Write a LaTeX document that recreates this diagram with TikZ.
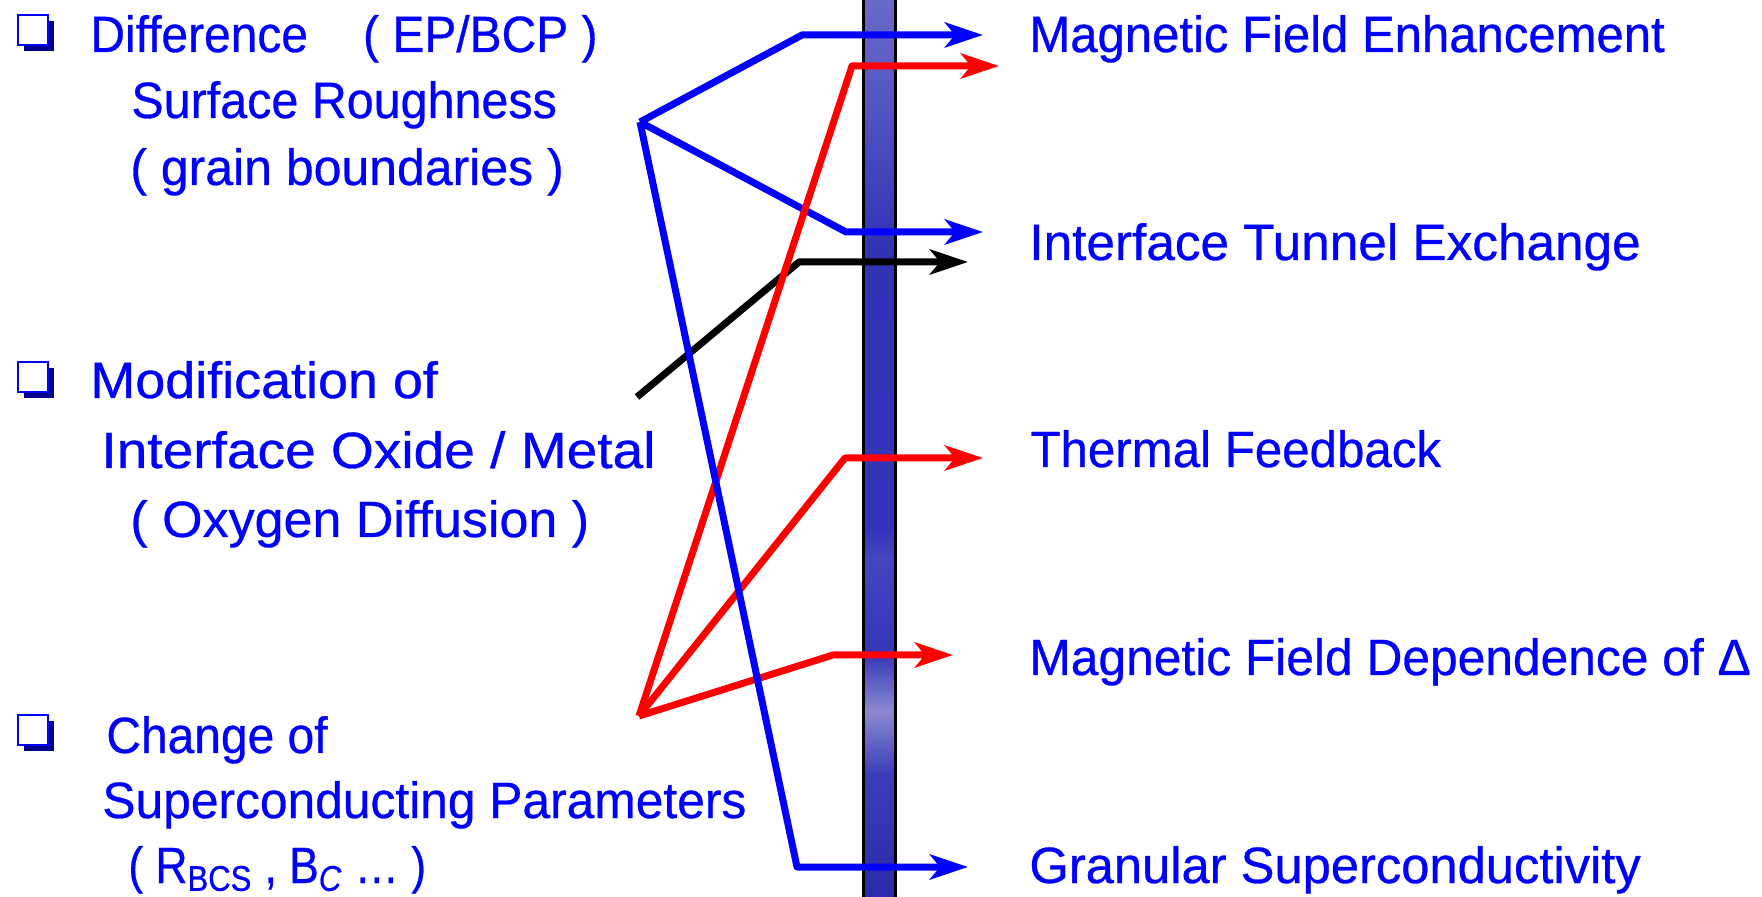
\documentclass[tikz,border=0pt]{standalone}
\usepackage{fontspec}
\setmainfont{Liberation Sans}[FakeBold=0.6]
\usetikzlibrary{arrows.meta,shadows}
\definecolor{tblue}{RGB}{0,0,255}
\definecolor{tred}{RGB}{255,0,0}
\definecolor{navyb}{RGB}{0,0,140}
\definecolor{barA}{RGB}{42,42,168}
\definecolor{barB}{RGB}{60,60,184}
\definecolor{barC}{RGB}{138,138,208}
\definecolor{barD}{RGB}{52,52,184}
\definecolor{barE}{RGB}{70,70,192}
\definecolor{barF}{RGB}{50,50,181}
\definecolor{barG}{RGB}{88,88,196}
\definecolor{barH}{RGB}{106,106,200}
% path bounding box maps to 25bp..75bp of the shading
\pgfdeclareverticalshading{barshade}{100bp}{%
  color(0bp)=(barA); color(25bp)=(barA); color(32bp)=(barB); color(35.5bp)=(barC);
  color(38.75bp)=(barD); color(44bp)=(barE); color(45.5bp)=(barD);
  color(61bp)=(barF); color(70bp)=(barG); color(75bp)=(barH); color(100bp)=(barH)}
\newcommand\hs[2]{\scalebox{#1}[1]{#2}}
\begin{document}
\begin{tikzpicture}[x=0.5pt,y=-0.5pt,
  txt/.style={anchor=base west, inner sep=0pt, text=tblue,
    font=\fontsize{25.5pt}{30pt}\selectfont},
  bulletbox/.style={rectangle, draw=tblue, fill=white, line width=1.2pt,
    minimum size=15pt, inner sep=0pt,
    general shadow={fill=navyb, shadow xshift=3pt, shadow yshift=-3pt}},
  conn/.style={line width=3.5pt, line join=round,
    -{Stealth[length=19pt,width=12.5pt,inset=5pt]}},
  bconn/.style={conn, draw=tblue},
  rconn/.style={conn, draw=tred},
  kconn/.style={conn, draw=black}]
\useasboundingbox (0,0) rectangle (1762,897);

% vertical bar
\path[draw=black, line width=1.5pt, shading=barshade] (863,-4) rectangle (895,901);

% bullets
\node[bulletbox] (b1) at (33,30) {};
\node[bulletbox] (b2) at (33,377) {};
\node[bulletbox] (b3) at (33,730) {};

% left texts
\node[txt] (l1) at (90,52) {\hs{0.94}{Difference\hspace{1.15em}( EP/BCP )}};
\node[txt] (l2) at (131,118) {\hs{0.95}{Surface Roughness}};
\node[txt] (l3) at (130,185) {\hs{0.98}{( grain boundaries )}};
\node[txt] (l4) at (90,398) {\hs{1.057}{Modification of}};
\node[txt] (l5) at (101,468) {\hs{1.08}{Interface Oxide / Metal}};
\node[txt] (l6) at (130,537) {\hs{1.02}{( Oxygen Diffusion )}};
\node[txt] (l7) at (106,753) {\hs{0.94}{Change of}};
\node[txt] (l8) at (102,818) {\hs{0.975}{Superconducting Parameters}};
\node[txt] (l9) at (128,883) {\hs{0.87}{( R\textsubscript{BCS} , B\textsubscript{\textit{C}} … )}};

% right texts
\node[txt] (r1) at (1029,52) {\hs{0.962}{Magnetic Field Enhancement}};
\node[txt] (r2) at (1029,260) {\hs{1.006}{Interface Tunnel Exchange}};
\node[txt] (r3) at (1030,467) {\hs{0.966}{Thermal Feedback}};
\node[txt] (r4) at (1029,675) {\hs{0.975}{Magnetic Field Dependence of Δ}};
\node[txt] (r5) at (1029,883) {\hs{0.994}{Granular Superconductivity}};

% connector points
\coordinate (hubA) at (640,122);
\coordinate (hubC) at (639,716);
\coordinate (hubK) at (637,397);
\coordinate (c1) at (802,35);   \coordinate (t1) at (983,35);
\coordinate (c2) at (852,66);   \coordinate (t2) at (999,66);
\coordinate (c3) at (846,232);  \coordinate (t3) at (983,232);
\coordinate (c4) at (799,262);  \coordinate (t4) at (968,262);
\coordinate (c5) at (845,458);  \coordinate (t5) at (983,458);
\coordinate (c6) at (833,655);  \coordinate (t6) at (953,655);
\coordinate (c7) at (797,867);  \coordinate (t7) at (968,867);

% connectors
\draw[kconn] (hubK) -- (c4) -- (t4);
\draw[bconn] (hubA) -- (c1) -- (t1);
\draw[bconn] (hubA) -- (c3) -- (t3);
\draw[rconn] (hubC) -- (c2) -- (t2);
\draw[rconn] (hubC) -- (c5) -- (t5);
\draw[rconn] (hubC) -- (c6) -- (t6);
\draw[bconn] (hubA) -- (c7) -- (t7);
\end{tikzpicture}
\end{document}
